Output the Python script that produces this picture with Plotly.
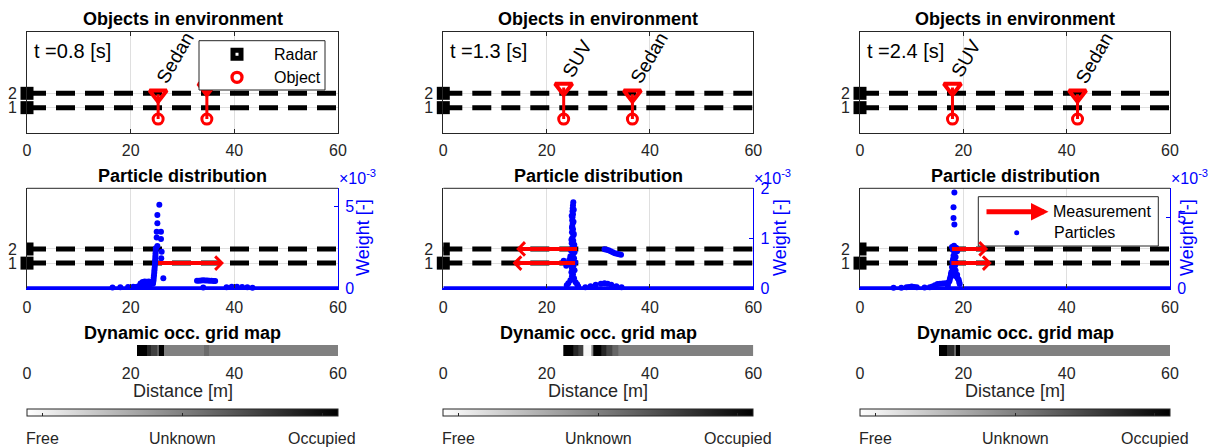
import plotly.graph_objects as go

# ---------------- snapshot t = 0.8 s ----------------
obj_x_08 = [25.3, 34.7]
obj_type_08 = ["Sedan", "SUV"]
obj_label_08 = ["Sedan", ""]          # second label is hidden by the legend box
meas_lane_08 = [1]
meas_from_08 = [25.0]
meas_to_08 = [38.0]
part_x_08 = [25.53, 25.15, 25.15, 25.02, 25.85, 25.02, 25.85, 25.15, 25.98, 25.9,
             24.85, 24.83, 24.8, 24.78, 24.75, 24.72, 24.7, 24.66, 24.62, 24.58,
             24.55, 24.5, 24.45, 24.4, 24.35, 24.3, 26.3,
             21.5, 21.9, 22.3, 22.7, 23.1, 23.5, 23.9, 24.2, 22.0, 22.8, 23.6,
             16.5, 18.0, 19.5, 20.5, 21.0,
             32.8, 33.2, 33.6, 34.0, 34.4, 34.8, 35.2, 35.6, 36.0, 36.3, 34.0,
             38.5, 39.5, 40.5, 41.5, 42.5, 43.5]
part_w_08 = [5.12, 4.49, 3.98, 3.47, 3.47, 3.12, 3.02, 2.59, 2.24, 1.84,
             2.45, 2.3, 2.15, 2.0, 1.85, 1.7, 1.55, 1.4, 1.25, 1.1,
             0.95, 0.8, 0.65, 0.5, 0.38, 0.28, 0.61,
             0.12, 0.3, 0.38, 0.42, 0.4, 0.42, 0.38, 0.3, 0.15, 0.2, 0.18,
             0.05, 0.06, 0.08, 0.1, 0.08,
             0.46, 0.47, 0.48, 0.49, 0.48, 0.48, 0.47, 0.46, 0.45, 0.44, 0.05,
             0.06, 0.09, 0.1, 0.08, 0.06, 0.04]
grid_edges_08 = [0, 21.3, 23.1, 24.0, 25.0, 25.5, 26.4, 34.1, 35.2, 60]
grid_occ_08 = [0.0, 1.0, 0.85, 0.75, 0.62, 1.0, 0.5, 0.58, 0.5]

# ---------------- snapshot t = 1.3 s ----------------
obj_x_13 = [23.3, 36.6]
obj_type_13 = ["SUV", "Sedan"]
obj_label_13 = ["SUV", "Sedan"]
meas_lane_13 = [2, 1]
meas_from_13 = [26.2, 25.8]
meas_to_13 = [14.1, 13.4]
part_x_13 = [25.16, 25.1, 25.05, 25.0, 25.1, 25.0, 24.95, 25.05, 24.95, 25.1,
             24.9, 25.2, 24.95, 25.15, 24.85, 25.3, 25.0, 24.75, 25.4, 25.1,
             24.6, 25.3, 24.4, 24.9, 25.5, 24.1, 24.7, 25.2, 23.8, 23.3,
             24.9, 25.4, 24.8, 25.1, 24.9, 25.3, 24.6, 25.6, 24.2, 25.9, 23.9, 26.1,
             25.25, 24.85, 25.2, 24.9, 25.25, 24.8, 25.35, 24.7,
             31.2, 31.6, 32.0, 32.4, 32.8, 33.2, 33.6, 34.0, 34.4,
             27.5, 28.5, 29.5, 30.5, 31.2, 31.8, 32.5, 33.5, 34.5]
part_w_13 = [1.72, 1.66, 1.60, 1.54, 1.48, 1.42, 1.36, 1.30, 1.24, 1.18,
             1.12, 1.06, 1.0, 0.95, 0.9, 0.85, 0.8, 0.75, 0.72, 0.68,
             0.64, 0.6, 0.57, 0.55, 0.52, 0.5, 0.47, 0.45, 0.45, 0.55,
             0.4, 0.36, 0.32, 0.28, 0.24, 0.2, 0.16, 0.12, 0.1, 0.08, 0.06, 0.04,
             1.57, 1.45, 1.33, 1.21, 1.09, 0.97, 0.87, 0.78,
             0.78, 0.77, 0.76, 0.74, 0.72, 0.7, 0.69, 0.68, 0.67,
             0.02, 0.04, 0.07, 0.09, 0.1, 0.09, 0.07, 0.04, 0.02]
grid_edges_13 = [0, 23.3, 25.2, 26.1, 27.0, 28.6, 29.0, 30.6, 31.6, 32.7, 33.8, 60]
grid_occ_13 = [0.0, 1.0, 0.85, 0.75, 0.03, 0.45, 1.0, 0.85, 0.72, 0.6, 0.5]

# ---------------- snapshot t = 2.4 s ----------------
obj_x_24 = [17.9, 42.1]
obj_type_24 = ["SUV", "Sedan"]
obj_label_24 = ["SUV", "Sedan"]
meas_lane_24 = [2, 1]
meas_from_24 = [17.5, 17.4]
meas_to_24 = [24.8, 25.5]
part_x_24 = [18.27, 18.1, 18.1, 18.27,
             17.8, 18.2, 18.6, 18.0, 18.4, 18.8, 18.3, 18.1, 18.5, 18.0, 18.3,
             17.9, 18.6, 18.1, 18.4, 17.8, 18.2, 18.0, 18.5, 17.7, 18.3, 17.6,
             18.8, 17.9, 18.6, 17.5, 18.9, 17.4, 19.1, 17.3, 19.2, 17.1, 19.3,
             16.9, 17.0,
             15.0, 15.5, 16.0, 16.5, 14.5, 14.0, 13.5, 12.5, 11.0, 10.5, 10.0,
             9.5, 9.0, 8.0, 6.5]
part_w_24 = [6.75, 5.7, 4.95, 4.5,
             2.9, 3.0, 2.85, 2.7, 2.7, 2.6, 2.45, 2.3, 2.2, 2.05, 1.95,
             1.85, 1.8, 1.7, 1.6, 1.5, 1.45, 1.3, 1.25, 1.15, 1.1, 1.0,
             0.95, 0.9, 0.85, 0.8, 0.7, 0.65, 0.6, 0.5, 0.45, 0.4, 0.3,
             0.3, 0.2,
             0.3, 0.32, 0.33, 0.35, 0.22, 0.12, 0.08, 0.05, 0.08, 0.1, 0.12,
             0.1, 0.07, 0.04, 0.03]
grid_edges_24 = [0, 15.25, 16.9, 18.1, 18.5, 19.4, 60]
grid_occ_24 = [0.0, 1.0, 0.82, 0.6, 1.0, 0.5]

# shared
times = ["0.8", "1.3", "2.4"]
lanes = [1, 2]
radar_x = [0, 0]
dist_ticks = [0, 20, 40, 60]
floor_x = [0, 60]          # low-weight particles spread over the whole road
floor_w = [0, 0]
wmax = [6.13, 2.0, 7.04]   # weight axis tops (x 1e-3)
wdtick = [5, 1, 5]
occ_ticks = [0.05, 0.5, 0.95]
occ_labels = ["Free", "Unknown", "Occupied"]

snap = [
    dict(ox=obj_x_08, ot=obj_type_08, ol=obj_label_08, ml=meas_lane_08, mf=meas_from_08,
         mt=meas_to_08, px=part_x_08, pw=part_w_08, ge=grid_edges_08, go=grid_occ_08),
    dict(ox=obj_x_13, ot=obj_type_13, ol=obj_label_13, ml=meas_lane_13, mf=meas_from_13,
         mt=meas_to_13, px=part_x_13, pw=part_w_13, ge=grid_edges_13, go=grid_occ_13),
    dict(ox=obj_x_24, ot=obj_type_24, ol=obj_label_24, ml=meas_lane_24, mf=meas_from_24,
         mt=meas_to_24, px=part_x_24, pw=part_w_24, ge=grid_edges_24, go=grid_occ_24),
]

# ---------------- styling / geometry ----------------
W, H = 1220, 448
FONT = "Liberation Sans, Arial, Helvetica, sans-serif"
AX = "rgb(38,38,38)"
GRID = "rgb(223,223,223)"
RED = "rgb(255,0,0)"
BLUE = "rgb(0,0,255)"
TYPE_Y = {"Sedan": 1.93, "SUV": 2.4}   # height of the type marker above the lanes
OBJ_Y = 0.2
LANE_RANGE = [-0.77, 6.26]

col_px = [(27.0, 338.0), (443.3, 753.3), (860.0, 1170.0)]
top_px = (32.3, 133.0)
mid_px = (188.3, 288.3)
grd_px = (345.0, 356.0)
weight_lbl_px = [363, 780, 1187]


def fx(p):
    return p / W


def fy(p):
    return 1 - p / H


def ref(kind, i):
    return kind + ("" if i == 1 else str(i))


def lay(kind, i):
    return kind + "axis" + ("" if i == 1 else str(i))


fig = go.Figure()
layout = dict(
    width=W, height=H,
    # fixed page geometry: the colour bars must not push the margins
    margin=dict(l=0, r=0, t=0, b=0, autoexpand=False),
    paper_bgcolor="white", plot_bgcolor="white", showlegend=False,
    font=dict(family=FONT, size=16, color=AX),
)
annotations = []
shapes = []

for c, s in enumerate(snap):
    x0, x1 = col_px[c]
    xdom = [fx(x0), fx(x1)]
    it, im, iw, ig, igy = c + 1, c + 4, c + 7, c + 7, c + 10
    xt, yt = ref("x", it), ref("y", it)
    xm, ym, yw = ref("x", im), ref("y", im), ref("y", iw)
    xg, yg = ref("x", ig), ref("y", igy)

    # ---------- axes ----------
    base_x = dict(range=[0, 60], tickvals=dist_ticks, zeroline=False,
                  tickfont=dict(size=16, color=AX), ticks="inside", ticklen=4,
                  tickcolor=AX, gridcolor=GRID, showgrid=True)
    layout[lay("x", it)] = dict(base_x, domain=xdom, anchor=yt, showline=True,
                                linecolor=AX, linewidth=1, mirror="ticks",
                                ticklabelstandoff=3)
    layout[lay("y", it)] = dict(domain=[fy(top_px[1]), fy(top_px[0])], anchor=xt,
                                range=LANE_RANGE, tickvals=lanes, zeroline=False,
                                showgrid=True, gridcolor=GRID, showline=True,
                                linecolor=AX, linewidth=1, mirror=True, ticks="",
                                ticklabelstandoff=6, tickfont=dict(size=16, color=AX))
    layout[lay("x", im)] = dict(base_x, domain=xdom, anchor=ym, showline=True,
                                linecolor=BLUE, linewidth=2, mirror=False,
                                ticklabelstandoff=3)
    layout[lay("y", im)] = dict(domain=[fy(mid_px[1]), fy(mid_px[0])], anchor=xm,
                                range=LANE_RANGE, tickvals=lanes, zeroline=False,
                                showgrid=True, gridcolor=GRID, showline=True,
                                linecolor=AX, linewidth=1, ticks="",
                                ticklabelstandoff=6, tickfont=dict(size=16, color=AX))
    layout[lay("y", iw)] = dict(overlaying=ym, anchor=xm, side="right",
                                range=[0, wmax[c]], dtick=wdtick[c], tick0=0,
                                zeroline=False, showgrid=False, showline=True,
                                linecolor=BLUE, linewidth=1, ticks="inside",
                                ticklen=4, tickcolor=BLUE, ticklabelstandoff=3,
                                tickfont=dict(size=16, color=BLUE))
    layout[lay("x", ig)] = dict(domain=xdom, anchor=yg, range=[0, 60],
                                tickvals=dist_ticks, zeroline=False, showgrid=False,
                                showline=False, ticks="", ticklabelstandoff=6,
                                tickfont=dict(size=16, color=AX))
    layout[lay("y", igy)] = dict(domain=[fy(grd_px[1]), fy(grd_px[0])], anchor=xg,
                                 range=[0, 1], visible=False)

    # ---------- top: objects in environment ----------
    for ax_x, ax_y in ((xt, yt), (xm, ym)):
        for ln in lanes:
            fig.add_trace(go.Scatter(x=floor_x, y=[ln, ln], mode="lines",
                                     line=dict(color="black", width=5, dash="19px,10px"),
                                     xaxis=ax_x, yaxis=ax_y, hoverinfo="skip"))
    fig.add_trace(go.Scatter(x=radar_x, y=lanes, mode="markers",
                             marker=dict(symbol="square", size=13, color="black"),
                             cliponaxis=False, xaxis=xt, yaxis=yt, hoverinfo="skip"))
    for ox, ot in zip(s["ox"], s["ot"]):
        fig.add_trace(go.Scatter(x=[ox, ox], y=[TYPE_Y[ot], OBJ_Y], mode="lines",
                                 line=dict(color=RED, width=3), xaxis=xt, yaxis=yt,
                                 hoverinfo="skip"))
    fig.add_trace(go.Scatter(x=s["ox"], y=[OBJ_Y] * len(s["ox"]), mode="markers",
                             marker=dict(symbol="circle-open", size=10, color=RED,
                                         line=dict(width=3, color=RED)),
                             xaxis=xt, yaxis=yt, hoverinfo="skip"))
    fig.add_trace(go.Scatter(x=s["ox"], y=[TYPE_Y[t] for t in s["ot"]], mode="markers",
                             marker=dict(symbol="triangle-down-open", size=15, color=RED,
                                         line=dict(width=4, color=RED)),
                             xaxis=xt, yaxis=yt, hoverinfo="skip"))
    for ox, ot, ol in zip(s["ox"], s["ot"], s["ol"]):
        if ol:
            annotations.append(dict(x=ox, y=TYPE_Y[ot], xref=xt, yref=yt, text=ol,
                                    textangle=-60, showarrow=False, xanchor="left",
                                    yanchor="bottom", xshift=-7, yshift=6, borderpad=0,
                                    font=dict(size=19, color="black")))
    annotations.append(dict(x=fx(x0 + 5), y=fy(51), xref="paper", yref="paper",
                            text="t =" + times[c] + " [s]", showarrow=False,
                            xanchor="left", yanchor="middle",
                            font=dict(size=20, color="black")))
    annotations.append(dict(x=fx((x0 + x1) / 2), y=fy(19), xref="paper", yref="paper",
                            text="<b>Objects in environment</b>", showarrow=False,
                            xanchor="center", yanchor="middle",
                            font=dict(size=18, color="black")))

    # ---------- middle: particle distribution ----------
    fig.add_trace(go.Scatter(x=[0], y=[1], mode="markers",
                             marker=dict(symbol="square", size=13, color="black"),
                             cliponaxis=False, xaxis=xm, yaxis=ym, hoverinfo="skip"))
    fig.add_trace(go.Scatter(x=[0], y=[2], mode="markers",
                             marker=dict(symbol="square", size=13, color="black"),
                             cliponaxis=True, xaxis=xm, yaxis=ym, hoverinfo="skip"))
    fig.add_trace(go.Scatter(x=floor_x, y=floor_w, mode="lines",
                             line=dict(color=BLUE, width=4), xaxis=xm, yaxis=yw,
                             hoverinfo="skip"))
    fig.add_trace(go.Scatter(x=s["px"], y=s["pw"], mode="markers", name="Particles",
                             marker=dict(size=6, color=BLUE), cliponaxis=False,
                             xaxis=xm, yaxis=yw, hoverinfo="skip"))
    for ln, a, b in zip(s["ml"], s["mf"], s["mt"]):
        annotations.append(dict(x=b, y=ln, ax=a, ay=ln, xref=xm, yref=ym, axref=xm,
                                ayref=ym, text="", showarrow=True, arrowhead=4,
                                arrowsize=0.65, arrowwidth=4, arrowcolor=RED,
                                standoff=0))
    shapes.append(dict(type="line", xref="paper", yref="paper", x0=fx(x0), x1=fx(x1),
                       y0=fy(mid_px[0]), y1=fy(mid_px[0]),
                       line=dict(color=AX, width=1)))
    annotations.append(dict(x=fx((x0 + x1) / 2), y=fy(176), xref="paper", yref="paper",
                            text="<b>Particle distribution</b>", showarrow=False,
                            xanchor="center", yanchor="middle",
                            font=dict(size=18, color="black")))
    annotations.append(dict(x=fx(x1 - 1), y=fy(177), xref="paper", yref="paper",
                            text="\u00d710<sup>-3</sup>", showarrow=False,
                            xanchor="left", yanchor="middle",
                            font=dict(size=16, color=BLUE)))
    annotations.append(dict(x=fx(weight_lbl_px[c]), y=fy(238), xref="paper",
                            yref="paper", text="Weight [-]", textangle=-90,
                            showarrow=False, xanchor="center", yanchor="middle",
                            font=dict(size=18, color=BLUE)))

    # ---------- bottom: dynamic occupancy grid ----------
    fig.add_trace(go.Heatmap(
        x=s["ge"], y=[0, 1], z=[s["go"]], zmin=0, zmax=1,
        colorscale=[[0, "rgb(255,255,255)"], [1, "rgb(0,0,0)"]],
        xaxis=xg, yaxis=yg, hoverinfo="skip", showscale=True,
        colorbar=dict(orientation="h", x=fx(x0), xanchor="left", y=fy(420),
                      yanchor="bottom", len=(x1 - x0) / W, lenmode="fraction",
                      thickness=7, thicknessmode="pixels", outlinewidth=1,
                      outlinecolor=AX, ticks="inside", ticklen=3, tickcolor=AX,
                      tickvals=occ_ticks, showticklabels=False, xpad=0, ypad=0)))
    annotations.append(dict(x=fx((x0 + x1) / 2), y=fy(333), xref="paper", yref="paper",
                            text="<b>Dynamic occ. grid map</b>", showarrow=False,
                            xanchor="center", yanchor="middle",
                            font=dict(size=18, color="black")))
    annotations.append(dict(x=fx((x0 + x1) / 2), y=fy(391), xref="paper", yref="paper",
                            text="Distance [m]", showarrow=False, xanchor="center",
                            yanchor="middle", font=dict(size=18, color=AX)))
    for tv, tl in zip(occ_ticks, occ_labels):
        annotations.append(dict(x=fx(x0 + tv * (x1 - x0)), y=fy(438), xref="paper",
                                yref="paper", text=tl, showarrow=False,
                                xanchor="center", yanchor="middle",
                                font=dict(size=16, color=AX)))

# ---------- legend: Radar / Object ----------
shapes.append(dict(type="rect", xref="paper", yref="paper", x0=fx(199), x1=fx(325),
                   y0=fy(90), y1=fy(40.7), fillcolor="white",
                   line=dict(color=AX, width=1), layer="above"))
shapes.append(dict(type="rect", xref="paper", yref="paper", x0=fx(233), x1=fx(241),
                   y0=fy(58.3), y1=fy(50.3), fillcolor="white",
                   line=dict(color="black", width=5), layer="above"))
shapes.append(dict(type="circle", xref="paper", yref="paper", x0=fx(232), x1=fx(242),
                   y0=fy(82.3), y1=fy(72.3), fillcolor="white",
                   line=dict(color=RED, width=3.3), layer="above"))
annotations.append(dict(x=fx(272), y=fy(54.3), xref="paper", yref="paper", text="Radar",
                        showarrow=False, xanchor="left", yanchor="middle",
                        font=dict(size=16, color="black")))
annotations.append(dict(x=fx(272), y=fy(77.3), xref="paper", yref="paper", text="Object",
                        showarrow=False, xanchor="left", yanchor="middle",
                        font=dict(size=16, color="black")))

# ---------- legend: Measurement / Particles ----------
shapes.append(dict(type="rect", xref="paper", yref="paper", x0=fx(978.3), x1=fx(1158.3),
                   y0=fy(246), y1=fy(196.7), fillcolor="white",
                   line=dict(color=AX, width=1), layer="above"))
shapes.append(dict(type="circle", xref="paper", yref="paper", x0=fx(1014.2), x1=fx(1019.2),
                   y0=fy(235.2), y1=fy(230.2), fillcolor=BLUE,
                   line=dict(color=BLUE, width=0), layer="above"))
annotations.append(dict(x=fx(1048.5), y=fy(211.7), xref="paper", yref="paper",
                        ax=-63.5, ay=0, text="", showarrow=True, arrowhead=2,
                        arrowsize=0.7, arrowwidth=5, arrowcolor=RED, standoff=0))
annotations.append(dict(x=fx(1050.7), y=fy(211.7), xref="paper", yref="paper",
                        text="Measurement", showarrow=False, xanchor="left",
                        yanchor="middle", font=dict(size=16, color="black")))
annotations.append(dict(x=fx(1051.7), y=fy(232.7), xref="paper", yref="paper",
                        text="Particles", showarrow=False, xanchor="left",
                        yanchor="middle", font=dict(size=16, color="black")))

layout["annotations"] = annotations
layout["shapes"] = shapes
fig.update_layout(**layout)
fig.write_html("out.html")
